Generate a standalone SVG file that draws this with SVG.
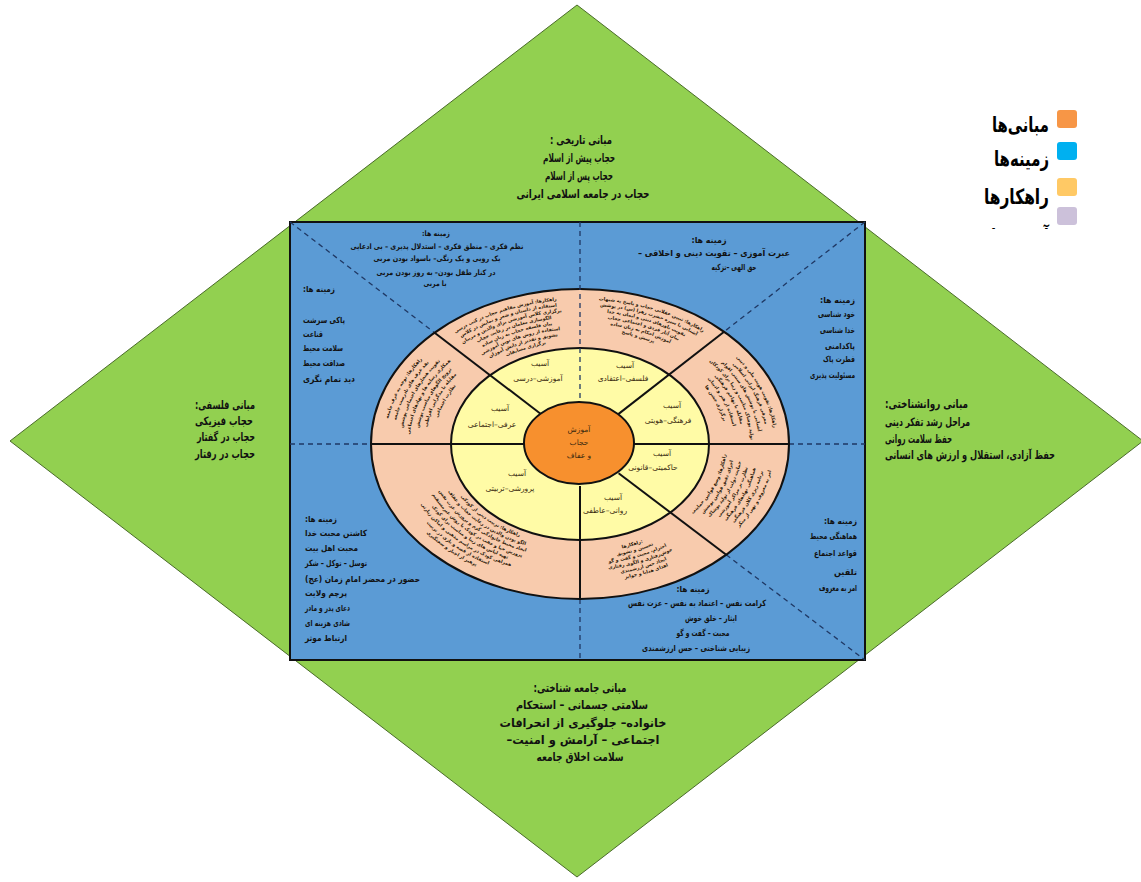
<svg xmlns="http://www.w3.org/2000/svg" width="1141" height="882" viewBox="0 0 1141 882">
<defs>
<style>
.t{font-family:"DejaVu Sans",sans-serif;font-weight:bold;fill:#111;direction:rtl}
.g{font-size:11.5px}
.s{font-size:8.5px}
.xs{font-size:7.5px}
.y{font-family:"DejaVu Sans",sans-serif;font-size:7.5px;fill:#3a2a10;direction:rtl}
.r{font-family:"DejaVu Sans",sans-serif;font-weight:bold;font-size:4.7px;fill:#2a1808}
.lg{font-family:"DejaVu Sans",sans-serif;font-weight:bold;font-size:21px;fill:#000;direction:rtl}
.dash{stroke:#1f3864;stroke-width:1.3;stroke-dasharray:5 4;fill:none}
.solid{stroke:#111;stroke-width:2;fill:none}
</style>
<clipPath id="legclip"><rect x="960" y="100" width="181" height="129"/></clipPath>
<path id="cw1" d="M718.6,444 A138.6,103.08 0 1 1 441.4,444 A138.6,103.08 0 1 1 718.6,444"/>
<path id="cw2" d="M726.6,444 A146.6,108.98 0 1 1 433.4,444 A146.6,108.98 0 1 1 726.6,444"/>
<path id="cw3" d="M734.6,444 A154.6,114.88 0 1 1 425.4,444 A154.6,114.88 0 1 1 734.6,444"/>
<path id="cw4" d="M742.6,444 A162.6,120.78 0 1 1 417.4,444 A162.6,120.78 0 1 1 742.6,444"/>
<path id="cw5" d="M750.6,444 A170.6,126.68 0 1 1 409.4,444 A170.6,126.68 0 1 1 750.6,444"/>
<path id="cw6" d="M758.6,444 A178.6,132.58 0 1 1 401.4,444 A178.6,132.58 0 1 1 758.6,444"/>
<path id="cw7" d="M766.6,444 A186.6,138.48 0 1 1 393.4,444 A186.6,138.48 0 1 1 766.6,444"/>
<path id="cw8" d="M774.6,444 A194.6,144.38 0 1 1 385.4,444 A194.6,144.38 0 1 1 774.6,444"/>
<path id="cc1" d="M718.6,444 A138.6,103.08 0 1 0 441.4,444 A138.6,103.08 0 1 0 718.6,444"/>
<path id="cc2" d="M726.6,444 A146.6,108.98 0 1 0 433.4,444 A146.6,108.98 0 1 0 726.6,444"/>
<path id="cc3" d="M734.6,444 A154.6,114.88 0 1 0 425.4,444 A154.6,114.88 0 1 0 734.6,444"/>
<path id="cc4" d="M742.6,444 A162.6,120.78 0 1 0 417.4,444 A162.6,120.78 0 1 0 742.6,444"/>
<path id="cc5" d="M750.6,444 A170.6,126.68 0 1 0 409.4,444 A170.6,126.68 0 1 0 750.6,444"/>
<path id="cc6" d="M758.6,444 A178.6,132.58 0 1 0 401.4,444 A178.6,132.58 0 1 0 758.6,444"/>
<path id="cc7" d="M766.6,444 A186.6,138.48 0 1 0 393.4,444 A186.6,138.48 0 1 0 766.6,444"/>
<path id="cc8" d="M774.6,444 A194.6,144.38 0 1 0 385.4,444 A194.6,144.38 0 1 0 774.6,444"/>
</defs>
<rect width="1141" height="882" fill="#fff"/>
<g id="diamond">
<polygon points="577,5 1143,441 577,877 10,441" fill="#92d050" stroke="#4a6b2a" stroke-width="1"/>
</g>
<g id="panel">
<rect x="290" y="222" width="575" height="438" fill="#5b9bd5" stroke="#111" stroke-width="2"/>
</g>
<g id="connectors">
<line class="dash" x1="290" y1="222" x2="434.6" y2="332.7"/>
<line class="dash" x1="865" y1="222" x2="724.1" y2="331.7"/>
<line class="dash" x1="726.2" y1="554.8" x2="865" y2="660"/>
<line class="dash" x1="290" y1="444" x2="371" y2="444"/>
<line class="dash" x1="789" y1="444" x2="865" y2="444"/>
<line class="dash" x1="580" y1="599" x2="580" y2="660"/>
</g>
<g id="ring">
<ellipse cx="580" cy="444" rx="209" ry="155" fill="#f8cbad" stroke="#111" stroke-width="2"/>
<ellipse cx="580" cy="444" rx="129" ry="96" fill="#fffba6" stroke="#111" stroke-width="2"/>
</g>
<g id="segments">
<line class="solid" x1="434.6" y1="332.7" x2="541.5" y2="414.5"/>
<line class="solid" x1="724.1" y1="331.7" x2="618" y2="414.4"/>
<line class="solid" x1="726.2" y1="554.8" x2="618.6" y2="473.2"/>
<line class="solid" x1="371" y1="444" x2="526" y2="444"/>
<line class="solid" x1="634" y1="444" x2="789" y2="444"/>
<line class="solid" x1="580" y1="486" x2="580" y2="599"/>
<line class="dash" x1="580" y1="222" x2="580" y2="402" stroke="#333"/>
</g>
<g id="strategies-top-left">
<text class="r" text-anchor="middle"><textPath href="#cw8" startOffset="67.8%">راهکارها: آموزش مفاهیم حجاب در کتب درسی</textPath><textPath href="#cw7" startOffset="67.8%">استفاده از داستان و شعر و نمایش در کلاس</textPath><textPath href="#cw6" startOffset="67.8%">برگزاری کلاس آموزشی برای والدین و مربیان</textPath><textPath href="#cw5" startOffset="67.8%">الگوسازی معلمان در رعایت حجاب</textPath><textPath href="#cw4" startOffset="67.8%">بیان فلسفه حجاب به زبان ساده</textPath><textPath href="#cw3" startOffset="67.8%">استفاده از روش های نوین آموزشی</textPath><textPath href="#cw2" startOffset="67.8%">تشویق و تقدیر از دانش آموزان</textPath><textPath href="#cw1" startOffset="67.8%">برگزاری مسابقات</textPath></text>
</g>
<g id="strategies-top-right">
<text class="r" text-anchor="middle"><textPath href="#cw8" startOffset="81.9%">راهکارها: تبیین عقلانی حجاب و پاسخ به شبهات</textPath><textPath href="#cw7" startOffset="81.9%">آشنایی با سیره حضرت زهرا (س) در پوشش</textPath><textPath href="#cw6" startOffset="81.9%">تقویت باورهای دینی و ایمان به خدا</textPath><textPath href="#cw5" startOffset="81.9%">بیان آثار فردی و اجتماعی حجاب</textPath><textPath href="#cw4" startOffset="81.9%">آموزش احکام به زبان ساده</textPath><textPath href="#cw3" startOffset="81.9%">پرسش و پاسخ</textPath></text>
</g>
<g id="strategies-left-upper">
<text class="r" text-anchor="middle"><textPath href="#cw8" startOffset="55.6%">راهکارها: توجه به عرف جامعه</textPath><textPath href="#cw7" startOffset="55.6%">نقد عرف های نادرست جامعه</textPath><textPath href="#cw6" startOffset="55.6%">تقویت هنجارهای اجتماعی پوشش</textPath><textPath href="#cw5" startOffset="55.6%">همکاری رسانه ها و نهادهای اجتماعی</textPath><textPath href="#cw4" startOffset="55.6%">ترویج الگوهای مناسب پوشش</textPath><textPath href="#cw3" startOffset="55.6%">مقابله با مدگرایی افراطی</textPath><textPath href="#cw2" startOffset="55.6%">نظارت اجتماعی</textPath></text>
</g>
<g id="strategies-right-upper">
<text class="r" text-anchor="middle"><textPath href="#cw8" startOffset="94.7%">راهکارها: تقویت هویت ملی و دینی</textPath><textPath href="#cw7" startOffset="94.7%">معرفی فرهنگ ایرانی اسلامی</textPath><textPath href="#cw6" startOffset="94.7%">آشنایی با پوشش های سنتی اقوام</textPath><textPath href="#cw5" startOffset="94.7%">تولید پوشاک مناسب و زیبا برای کودکان</textPath><textPath href="#cw4" startOffset="94.7%">مقابله با تهاجم فرهنگی</textPath><textPath href="#cw3" startOffset="94.7%">استفاده از هنر و ادبیات</textPath><textPath href="#cw2" startOffset="94.7%">برگزاری جشن ها</textPath></text>
</g>
<g id="strategies-right-lower">
<text class="r" text-anchor="middle"><textPath href="#cc2" startOffset="94.4%">راهکارها: وضع قوانین حمایتی</textPath><textPath href="#cc3" startOffset="94.4%">اجرای دقیق قوانین پوشش</textPath><textPath href="#cc4" startOffset="94.4%">حمایت دولت از تولید پوشاک</textPath><textPath href="#cc5" startOffset="94.4%">نظارت بر مراکز آموزشی</textPath><textPath href="#cc6" startOffset="94.4%">هماهنگی نهادهای فرهنگی</textPath><textPath href="#cc7" startOffset="94.4%">برنامه ریزی کلان فرهنگی</textPath><textPath href="#cc8" startOffset="94.4%">امر به معروف و نهی از منکر</textPath></text>
</g>
<g id="strategies-bottom-right">
<text class="r" text-anchor="middle"><textPath href="#cc2" startOffset="81.6%">راهکارها:</textPath><textPath href="#cc3" startOffset="81.6%">تحسین و تشویق</textPath><textPath href="#cc4" startOffset="81.6%">احترام، محبت و گفت و گو</textPath><textPath href="#cc5" startOffset="81.6%">خوش‌رفتاری و الگوی رفتاری</textPath><textPath href="#cc6" startOffset="81.6%">ایجاد حس ارزشمندی</textPath><textPath href="#cc7" startOffset="81.6%">اهدای هدایا و جوایز</textPath></text>
</g>
<g id="strategies-bottom-left">
<text class="r" text-anchor="middle"><textPath href="#cc1" startOffset="62.2%">راهکارها: تربیت دینی از کودکی</textPath><textPath href="#cc2" startOffset="62.2%">الگو بودن والدین در رعایت حجاب و عفاف</textPath><textPath href="#cc3" startOffset="62.2%">ایجاد محیط خانوادگی گرم و پرورش عزت نفس</textPath><textPath href="#cc4" startOffset="62.2%">پرورش حیا و عفت در کودک با روش غیرمستقیم</textPath><textPath href="#cc5" startOffset="62.2%">تهیه لباس های زیبا و مناسب برای کودک</textPath><textPath href="#cc6" startOffset="62.2%">همراهی کودک در مراسم مذهبی و اماکن زیارتی</textPath><textPath href="#cc7" startOffset="62.2%">استفاده از قصه و بازی در تربیت</textPath><textPath href="#cc8" startOffset="62.2%">پرهیز از اجبار و سختگیری</textPath></text>
</g>
<g id="core">
<ellipse cx="579" cy="443" rx="55" ry="41" fill="#f7902e" stroke="#111" stroke-width="2"/>
<text class="y" x="579" y="432" text-anchor="middle">آموزش</text>
<text class="y" x="579" y="445" text-anchor="middle">حجاب</text>
<text class="y" x="579" y="458" text-anchor="middle">و عفاف</text>
</g>
<g id="harm-labels">
<text class="y" x="540" y="366" text-anchor="middle">آسیب</text>
<text class="y" x="538" y="381" text-anchor="middle">آموزشی–درسی</text>
<text class="y" x="625" y="368" text-anchor="middle">آسیب</text>
<text class="y" x="623" y="381" text-anchor="middle">فلسفی–اعتقادی</text>
<text class="y" x="500" y="411" text-anchor="middle">آسیب</text>
<text class="y" x="492" y="427" text-anchor="middle">عرفی–اجتماعی</text>
<text class="y" x="672" y="408" text-anchor="middle">آسیب</text>
<text class="y" x="668" y="423" text-anchor="middle">فرهنگی–هویتی</text>
<text class="y" x="662" y="456" text-anchor="middle">آسیب</text>
<text class="y" x="653" y="470" text-anchor="middle">حاکمیتی–قانونی</text>
<text class="y" x="613" y="500" text-anchor="middle">آسیب</text>
<text class="y" x="605" y="513" text-anchor="middle">روانی–عاطفی</text>
<text class="y" x="517" y="476" text-anchor="middle">آسیب</text>
<text class="y" x="510" y="491" text-anchor="middle">پرورشی–تربیتی</text>
</g>
<g id="historical">
<text class="t g" x="581" y="144" text-anchor="middle" textLength="62" lengthAdjust="spacingAndGlyphs">مبانی تاریخی :</text>
<text class="t g" x="579" y="162" text-anchor="middle" textLength="72" lengthAdjust="spacingAndGlyphs">حجاب پیش از اسلام</text>
<text class="t g" x="579" y="180" text-anchor="middle" textLength="68" lengthAdjust="spacingAndGlyphs">حجاب پس از اسلام</text>
<text class="t g" x="583" y="198" text-anchor="middle" textLength="133" lengthAdjust="spacingAndGlyphs">حجاب در جامعه اسلامی ایرانی</text>
</g>
<g id="philosophical">
<text class="t g" x="225" y="409" text-anchor="middle" textLength="60" lengthAdjust="spacingAndGlyphs">مبانی فلسفی:</text>
<text class="t g" x="224" y="425" text-anchor="middle" textLength="58" lengthAdjust="spacingAndGlyphs">حجاب فیزیکی</text>
<text class="t g" x="226" y="441" text-anchor="middle" textLength="58" lengthAdjust="spacingAndGlyphs">حجاب در گفتار</text>
<text class="t g" x="225" y="458" text-anchor="middle" textLength="60" lengthAdjust="spacingAndGlyphs">حجاب در رفتار</text>
</g>
<g id="psychological">
<text class="t g" x="885" y="408" text-anchor="end" textLength="83" lengthAdjust="spacingAndGlyphs">مبانی روانشناختی:</text>
<text class="t g" x="885" y="426" text-anchor="end" textLength="85" lengthAdjust="spacingAndGlyphs">مراحل رشد تفکر دینی</text>
<text class="t g" x="885" y="443" text-anchor="end" textLength="67" lengthAdjust="spacingAndGlyphs">حفظ سلامت روانی</text>
<text class="t g" x="885" y="459" text-anchor="end" textLength="170" lengthAdjust="spacingAndGlyphs">حفظ آزادی، استقلال و ارزش های انسانی</text>
</g>
<g id="sociological">
<text class="t g" x="580" y="692" text-anchor="middle" textLength="93" lengthAdjust="spacingAndGlyphs">مبانی جامعه شناختی:</text>
<text class="t g" x="582" y="709" text-anchor="middle" textLength="132" lengthAdjust="spacingAndGlyphs">سلامتی جسمانی – استحکام</text>
<text class="t g" x="583" y="727" text-anchor="middle" textLength="167" lengthAdjust="spacingAndGlyphs">خانواده– جلوگیری از انحرافات</text>
<text class="t g" x="583" y="744" text-anchor="middle" textLength="153" lengthAdjust="spacingAndGlyphs">اجتماعی – آرامش و امنیت–</text>
<text class="t g" x="580" y="761" text-anchor="middle" textLength="87" lengthAdjust="spacingAndGlyphs">سلامت اخلاق جامعه</text>
</g>
<g id="context-top-left">
<text class="t xs" x="436" y="236" text-anchor="middle" textLength="28" lengthAdjust="spacingAndGlyphs">زمینه ها:</text>
<text class="t xs" x="437" y="249" text-anchor="middle" textLength="173" lengthAdjust="spacingAndGlyphs">نظم فکری – منطق فکری – استدلال پذیری – بی ادعایی</text>
<text class="t xs" x="437" y="261" text-anchor="middle" textLength="127" lengthAdjust="spacingAndGlyphs">یک رویی و یک رنگی– باسواد بودن مربی</text>
<text class="t xs" x="436" y="275" text-anchor="middle" textLength="119" lengthAdjust="spacingAndGlyphs">در کنار طفل بودن– به روز بودن مربی</text>
<text class="t xs" x="435" y="286" text-anchor="middle" textLength="23" lengthAdjust="spacingAndGlyphs">با مربی</text>
</g>
<g id="context-left-upper">
<text class="t s" x="303" y="292" text-anchor="end" textLength="32" lengthAdjust="spacingAndGlyphs">زمینه ها:</text>
<text class="t s" x="303" y="323" text-anchor="end" textLength="42" lengthAdjust="spacingAndGlyphs">پاکی سرشت</text>
<text class="t s" x="303" y="337" text-anchor="end" textLength="20" lengthAdjust="spacingAndGlyphs">قناعت</text>
<text class="t s" x="303" y="351" text-anchor="end" textLength="40" lengthAdjust="spacingAndGlyphs">سلامت محیط</text>
<text class="t s" x="303" y="366" text-anchor="end" textLength="42" lengthAdjust="spacingAndGlyphs">صداقت محیط</text>
<text class="t s" x="303" y="382" text-anchor="end" textLength="52" lengthAdjust="spacingAndGlyphs">دید تمام نگری</text>
</g>
<g id="context-top-right">
<text class="t s" x="709" y="243" text-anchor="middle" textLength="35" lengthAdjust="spacingAndGlyphs">زمینه ها:</text>
<text class="t s" x="714" y="256" text-anchor="middle" textLength="152" lengthAdjust="spacingAndGlyphs">عبرت آموزی – تقویت دینی و اخلاقی –</text>
<text class="t s" x="734" y="270" text-anchor="middle" textLength="45" lengthAdjust="spacingAndGlyphs">حق الهی –تزکیه</text>
</g>
<g id="context-right-upper">
<text class="t s" x="855" y="303" text-anchor="start" textLength="35" lengthAdjust="spacingAndGlyphs">زمینه ها:</text>
<text class="t s" x="855" y="317" text-anchor="start" textLength="37" lengthAdjust="spacingAndGlyphs">خود شناسی</text>
<text class="t s" x="855" y="333" text-anchor="start" textLength="35" lengthAdjust="spacingAndGlyphs">خدا شناسی</text>
<text class="t s" x="855" y="349" text-anchor="start" textLength="30" lengthAdjust="spacingAndGlyphs">پاکدامنی</text>
<text class="t s" x="855" y="362" text-anchor="start" textLength="32" lengthAdjust="spacingAndGlyphs">فطرت پاک</text>
<text class="t s" x="855" y="378" text-anchor="start" textLength="45" lengthAdjust="spacingAndGlyphs">مسئولیت پذیری</text>
</g>
<g id="context-bottom-left">
<text class="t s" x="305" y="522" text-anchor="end" textLength="32" lengthAdjust="spacingAndGlyphs">زمینه ها:</text>
<text class="t s" x="305" y="536" text-anchor="end" textLength="62" lengthAdjust="spacingAndGlyphs">کاشتن محبت خدا</text>
<text class="t s" x="305" y="551" text-anchor="end" textLength="53" lengthAdjust="spacingAndGlyphs">محبت اهل بیت</text>
<text class="t s" x="305" y="566" text-anchor="end" textLength="62" lengthAdjust="spacingAndGlyphs">توسل – توکل – شکر</text>
<text class="t s" x="305" y="582" text-anchor="end" textLength="115" lengthAdjust="spacingAndGlyphs">حضور در محضر امام زمان (عج)</text>
<text class="t s" x="305" y="596" text-anchor="end" textLength="42" lengthAdjust="spacingAndGlyphs">پرچم ولایت</text>
<text class="t s" x="305" y="611" text-anchor="end" textLength="45" lengthAdjust="spacingAndGlyphs">دعای پدر و مادر</text>
<text class="t s" x="305" y="626" text-anchor="end" textLength="45" lengthAdjust="spacingAndGlyphs">شادی هزینه ای</text>
<text class="t s" x="305" y="641" text-anchor="end" textLength="42" lengthAdjust="spacingAndGlyphs">ارتباط موثر</text>
</g>
<g id="context-right-lower">
<text class="t s" x="857" y="524" text-anchor="start" textLength="33" lengthAdjust="spacingAndGlyphs">زمینه ها:</text>
<text class="t s" x="857" y="539" text-anchor="start" textLength="47" lengthAdjust="spacingAndGlyphs">هماهنگی محیط</text>
<text class="t s" x="857" y="556" text-anchor="start" textLength="43" lengthAdjust="spacingAndGlyphs">قواعد اجتماع</text>
<text class="t s" x="857" y="575" text-anchor="start" textLength="23" lengthAdjust="spacingAndGlyphs">تلقین</text>
<text class="t s" x="857" y="591" text-anchor="start" textLength="38" lengthAdjust="spacingAndGlyphs">امر به معروف</text>
</g>
<g id="context-bottom-right">
<text class="t s" x="693" y="592" text-anchor="middle" textLength="33" lengthAdjust="spacingAndGlyphs">زمینه ها:</text>
<text class="t s" x="697" y="606" text-anchor="middle" textLength="138" lengthAdjust="spacingAndGlyphs">کرامت نفس – اعتماد به نفس – عزت نفس</text>
<text class="t s" x="711" y="621" text-anchor="middle" textLength="52" lengthAdjust="spacingAndGlyphs">ایثار – خلق خوش</text>
<text class="t s" x="703" y="636" text-anchor="middle" textLength="53" lengthAdjust="spacingAndGlyphs">محبت – گفت و گو</text>
<text class="t s" x="696" y="651" text-anchor="middle" textLength="108" lengthAdjust="spacingAndGlyphs">زیبایی شناختی – حس ارزشمندی</text>
</g>
<g id="legend">
<rect x="1057" y="110" width="20" height="18" rx="3" fill="#f79646"/>
<rect x="1057" y="142" width="20" height="18" rx="3" fill="#00b0f0"/>
<rect x="1057" y="178" width="20" height="18" rx="3" fill="#ffc965"/>
<rect x="1057" y="207" width="20" height="18" rx="3" fill="#ccc1da"/>
<text class="lg" x="1049" y="132" text-anchor="start" textLength="57" lengthAdjust="spacingAndGlyphs">مبانی‌ها</text>
<text class="lg" x="1049" y="166" text-anchor="start" textLength="55" lengthAdjust="spacingAndGlyphs">زمینه‌ها</text>
<text class="lg" x="1049" y="204" text-anchor="start" textLength="65" lengthAdjust="spacingAndGlyphs">راهکارها</text>
<text class="lg" x="1049" y="244" text-anchor="start" textLength="58" lengthAdjust="spacingAndGlyphs" clip-path="url(#legclip)">آسیب‌ها</text>
</g>
</svg>
